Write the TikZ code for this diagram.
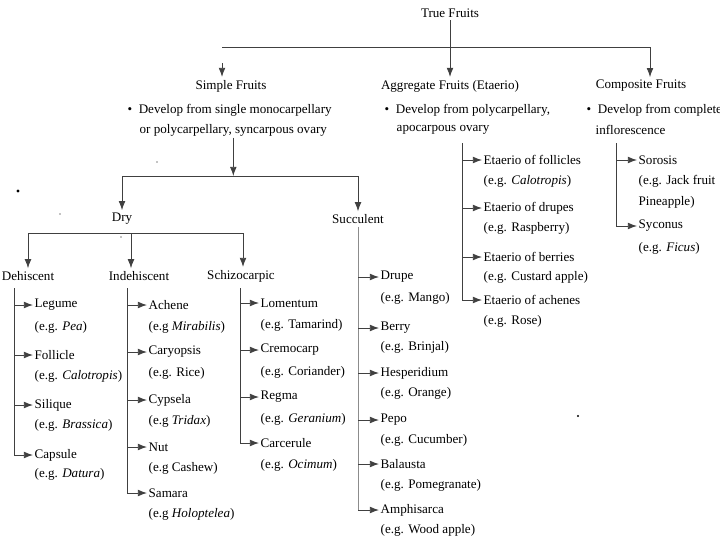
\documentclass[tikz,border=0pt]{standalone}
\usepackage{fontspec}
\setmainfont{Liberation Serif}
\usetikzlibrary{
  arrows.meta,
  positioning
}
\tikzset{
  lbl/.style={anchor=west, inner sep=1pt},
  head/.style={inner sep=2pt},
  link/.style={draw=black!75, line width=0.6pt},
  arr/.style={link, -{Latex[length=6.5pt,width=4.8pt]}}
}

\begin{document}
\begin{tikzpicture}[x=0.025cm, y=-0.025cm, font=\fontsize{9.3}{11}\selectfont]
            \useasboundingbox (0,0) rectangle (720,540);

            % top level
            \node[head] (true) at (450,13) {True Fruits};
            \node[head] (simple) at (231,86) {Simple Fruits};
            \node[head] (aggr) at (450,86) {Aggregate Fruits (Etaerio)};
            \node[head] (comp) at (641,86) {Composite Fruits};

            \coordinate (tl) at (222,47);
            \coordinate (tr) at (650,47);
            \coordinate (sa) at (222,63);
            \draw[link] (tl) -- (tr);
            \draw[arr] (true) -- (aggr);
            \draw[arr] (tr) -- (tr |- comp.north);
            \draw[arr] (sa) -- (sa |- simple.north);

            \node[lbl] (s1) at (126,110) {\textbullet\enspace Develop from single monocarpellary};
            \node[lbl] (s2) at (138,130) {or polycarpellary, syncarpous ovary};
            \node[lbl] (a1) at (383,110) {\textbullet\enspace Develop from polycarpellary,};
            \node[lbl] (a2) at (395,130) {apocarpous ovary};
            \node[lbl] (c1) at (585,110) {\textbullet\enspace Develop from complete};
            \node[lbl] (c2) at (594,130) {inflorescence};

            % simple fruits
            \node[head] (dry) at (122,219) {Dry};
            \node[head] (succ) at (358,219) {Succulent};
            \coordinate (sl) at (122,176);
            \coordinate (sr) at (358,176);
            \draw[arr] (s2.south) -- (s2.south |- sl);
            \draw[link] (sl) -- (sr);
            \draw[arr] (sl) -- (dry.north);
            \draw[arr] (sr) -- (succ.north);

            % dry fruits
            \node[head] (dehis) at (28,276) {Dehiscent};
            \node[head] (indeh) at (139,276) {Indehiscent};
            \node[head] (schizo) at (241,276) {Schizocarpic};
            \coordinate (dl) at (28,233);
            \coordinate (dm) at (131,233);
            \coordinate (dr) at (243,233);
            \draw[link] (dl) -- (dr);
            \draw[arr] (dl) -- (dl |- dehis.north);
            \draw[arr] (dm) -- (dm |- indeh.north);
            \draw[arr] (dr) -- (dr |- schizo.north);

            % dehiscent
            \node[lbl] (legume) at (33,305) {Legume};
            \node[lbl] (legumeeg) at (33,327) {(e.g. \textit{Pea})};
            \node[lbl] (follicle) at (33,355) {Follicle};
            \node[lbl] (follicleeg) at (33,376) {(e.g. \textit{Calotropis})};
            \node[lbl] (silique) at (33,405) {Silique};
            \node[lbl] (siliqueeg) at (33,425) {(e.g. \textit{Brassica})};
            \node[lbl] (capsule) at (33,455) {Capsule};
            \node[lbl] (capsuleeg) at (33,474) {(e.g. \textit{Datura})};
            \coordinate (dtop) at (14,288);
            \draw[arr] (dtop |- legume.west) -- (legume.west);
            \draw[arr] (dtop |- follicle.west) -- (follicle.west);
            \draw[arr] (dtop |- silique.west) -- (silique.west);
            \draw[arr] (dtop) |- (capsule.west);

            % indehiscent
            \node[lbl] (achene) at (147,305) {Achene};
            \node[lbl] (acheneeg) at (147,327) {(e.g \textit{Mirabilis})};
            \node[lbl] (caryo) at (147,352) {Caryopsis};
            \node[lbl] (caryoeg) at (147,373) {(e.g. Rice)};
            \node[lbl] (cypsela) at (147,400) {Cypsela};
            \node[lbl] (cypselaeg) at (147,421) {(e.g \textit{Tridax})};
            \node[lbl] (nut) at (147,447) {Nut};
            \node[lbl] (nuteg) at (147,468) {(e.g Cashew)};
            \node[lbl] (samara) at (147,493) {Samara};
            \node[lbl] (samaraeg) at (147,514) {(e.g \textit{Holoptelea})};
            \coordinate (itop) at (127,288);
            \draw[arr] (itop |- achene.west) -- (achene.west);
            \draw[arr] (itop |- caryo.west) -- (caryo.west);
            \draw[arr] (itop |- cypsela.west) -- (cypsela.west);
            \draw[arr] (itop |- nut.west) -- (nut.west);
            \draw[arr] (itop) |- (samara.west);

            % schizocarpic
            \node[lbl] (loment) at (259,303) {Lomentum};
            \node[lbl] (lomenteg) at (259,325) {(e.g. Tamarind)};
            \node[lbl] (cremo) at (259,350) {Cremocarp};
            \node[lbl] (cremoeg) at (259,372) {(e.g. Coriander)};
            \node[lbl] (regma) at (259,397) {Regma};
            \node[lbl] (regmaeg) at (259,419) {(e.g. \textit{Geranium})};
            \node[lbl] (carce) at (259,443) {Carcerule};
            \node[lbl] (carceeg) at (259,465) {(e.g. \textit{Ocimum})};
            \coordinate (ztop) at (240,288);
            \draw[arr] (ztop |- loment.west) -- (loment.west);
            \draw[arr] (ztop |- cremo.west) -- (cremo.west);
            \draw[arr] (ztop |- regma.west) -- (regma.west);
            \draw[arr] (ztop) |- (carce.west);

            % succulent
            \node[lbl] (drupe) at (379,277) {Drupe};
            \node[lbl] (drupeeg) at (379,298) {(e.g. Mango)};
            \node[lbl] (berry) at (379,328) {Berry};
            \node[lbl] (berryeg) at (379,347) {(e.g. Brinjal)};
            \node[lbl] (hesp) at (379,373) {Hesperidium};
            \node[lbl] (hespeg) at (379,393) {(e.g. Orange)};
            \node[lbl] (pepo) at (379,420) {Pepo};
            \node[lbl] (pepoeg) at (379,440) {(e.g. Cucumber)};
            \node[lbl] (bala) at (379,464) {Balausta};
            \node[lbl] (balaeg) at (379,485) {(e.g. Pomegranate)};
            \node[lbl] (amphi) at (379,510) {Amphisarca};
            \node[lbl] (amphieg) at (379,530) {(e.g. Wood apple)};
            \draw[draw=black!45, line width=0.4pt] (succ.south) -- (succ.south |- amphi.west);
            \draw[arr] (succ.south |- drupe.west) -- (drupe.west);
            \draw[arr] (succ.south |- berry.west) -- (berry.west);
            \draw[arr] (succ.south |- hesp.west) -- (hesp.west);
            \draw[arr] (succ.south |- pepo.west) -- (pepo.west);
            \draw[arr] (succ.south |- bala.west) -- (bala.west);
            \draw[arr] (succ.south |- amphi.west) -- (amphi.west);

            % aggregate
            \node[lbl] (efoll) at (482,160) {Etaerio of follicles};
            \node[lbl] (efolleg) at (482,181) {(e.g. \textit{Calotropis})};
            \node[lbl] (edrup) at (482,208) {Etaerio of drupes};
            \node[lbl] (edrupeg) at (482,228) {(e.g. Raspberry)};
            \node[lbl] (eberr) at (482,257) {Etaerio of berries};
            \node[lbl] (eberreg) at (482,277) {(e.g. Custard apple)};
            \node[lbl] (eache) at (482,300) {Etaerio of achenes};
            \node[lbl] (eacheeg) at (482,321) {(e.g. Rose)};
            \coordinate (atop) at (462,143);
            \draw[arr] (atop |- efoll.west) -- (efoll.west);
            \draw[arr] (atop |- edrup.west) -- (edrup.west);
            \draw[arr] (atop |- eberr.west) -- (eberr.west);
            \draw[arr] (atop) |- (eache.west);

            % composite
            \node[lbl] (soro) at (637,160) {Sorosis};
            \node[lbl] (soroeg) at (637,181) {(e.g. Jack fruit};
            \node[lbl] (soroeg2) at (637,202) {Pineapple)};
            \node[lbl] (sycon) at (637,226) {Syconus};
            \node[lbl] (syconeg) at (637,248) {(e.g. \textit{Ficus})};
            \coordinate (ctop) at (616,143);
            \draw[arr] (ctop |- soro.west) -- (soro.west);
            \draw[arr] (ctop) |- (sycon.west);

            % stray dots
            \fill (18,191) circle[radius=1.1pt];
            \fill (60,214) circle[radius=0.4pt];
            \fill (121,237) circle[radius=0.4pt];
            \fill (157,162) circle[radius=0.4pt];
            \fill (578,416) circle[radius=0.8pt];
          \end{tikzpicture}
\end{document}
